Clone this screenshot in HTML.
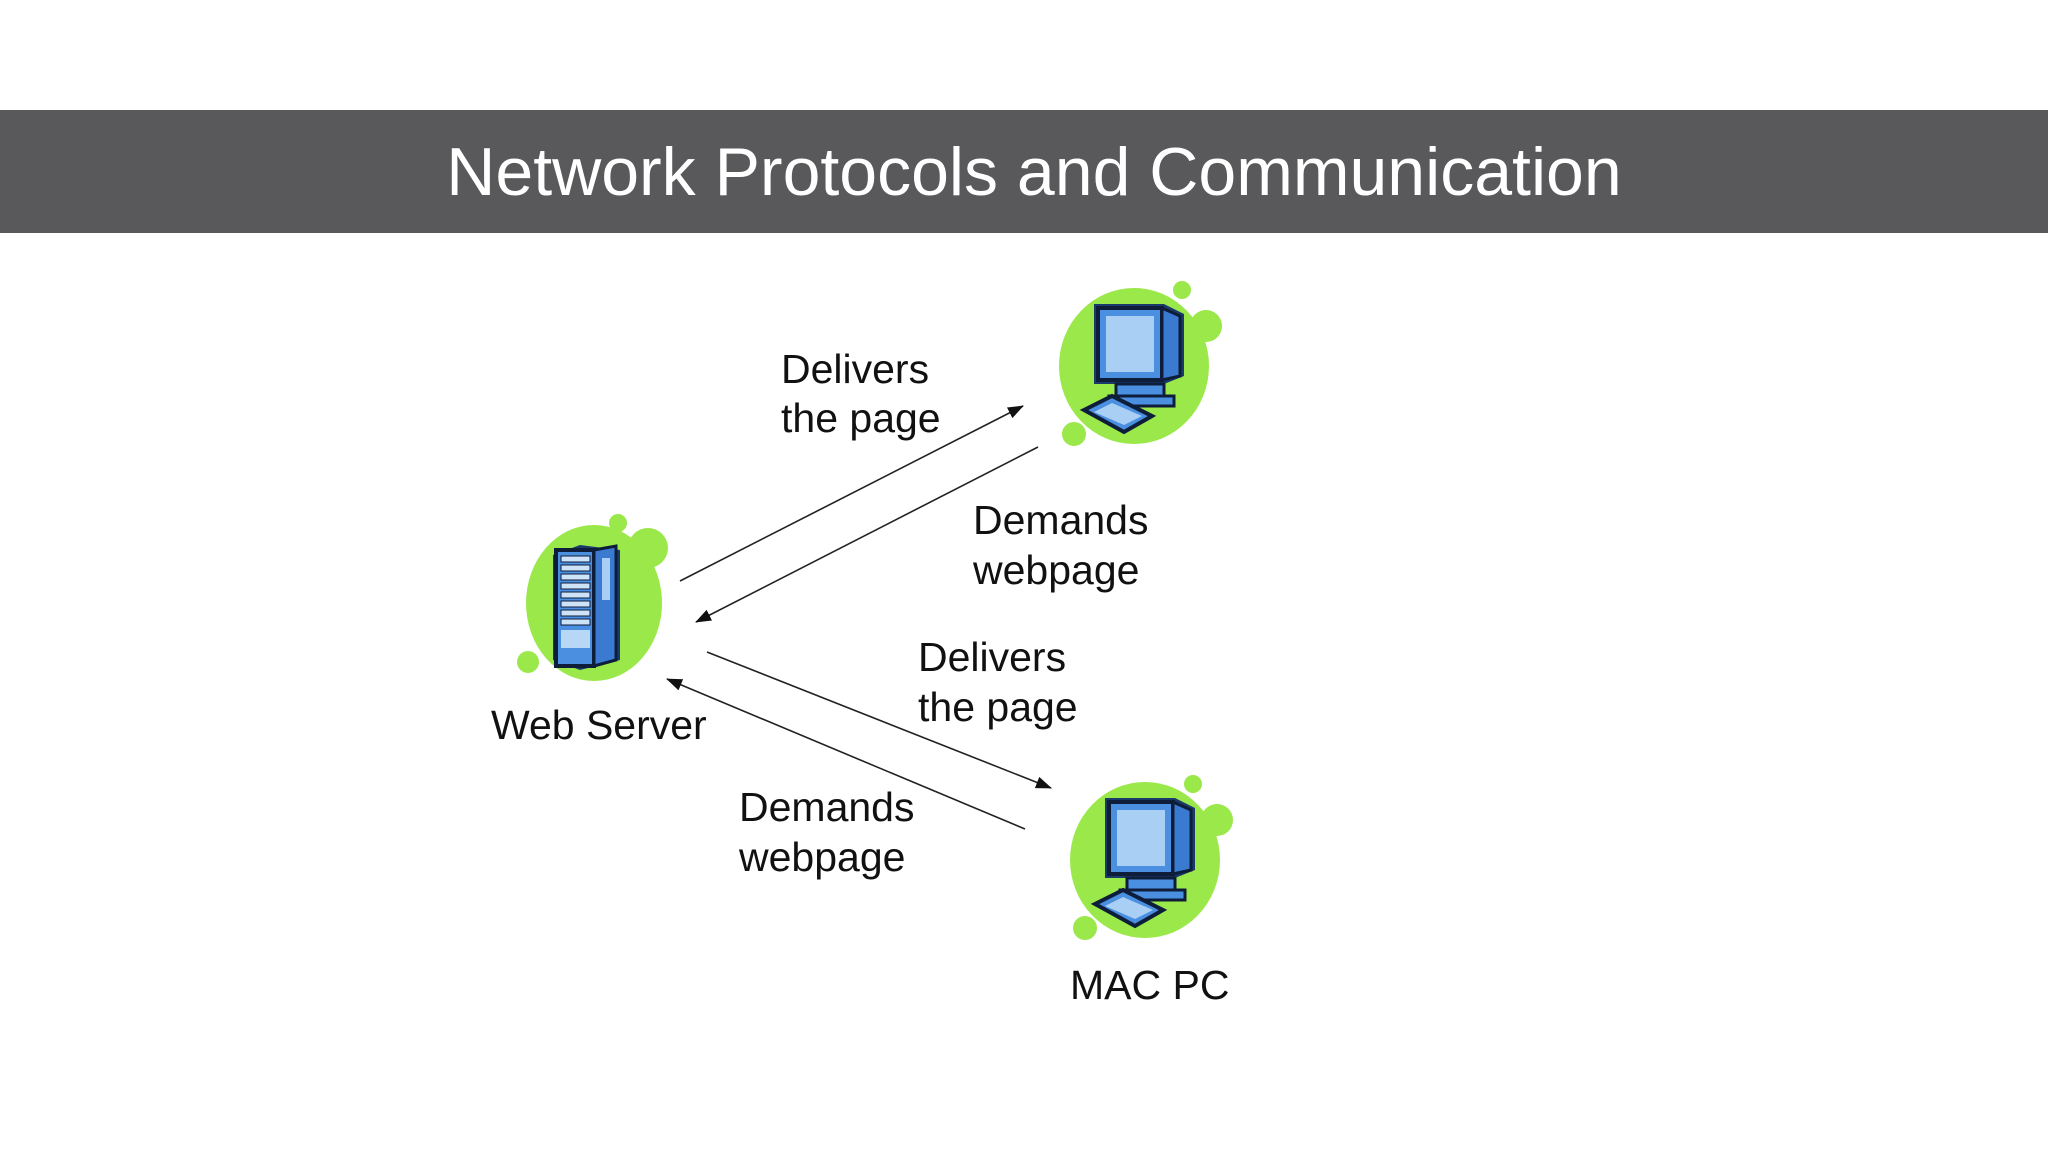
<!DOCTYPE html>
<html><head><style>
body{margin:0;width:2048px;height:1152px;background:#fff;overflow:hidden;font-family:"Liberation Sans",sans-serif}
</style></head><body>
<svg width="2048" height="1152" viewBox="0 0 2048 1152" xmlns="http://www.w3.org/2000/svg" style="position:absolute;left:0;top:0">
<defs>
<marker id="ah2" markerWidth="16" markerHeight="12" refX="15" refY="6" orient="auto" markerUnits="userSpaceOnUse"><path d="M0,0 L16,6 L0,12 Z" fill="#111"/></marker>
<g id="pc">
  <ellipse cx="0" cy="0" rx="75" ry="78" fill="#9be84a"/>
  <circle cx="48" cy="-76" r="9" fill="#9be84a"/>
  <circle cx="72" cy="-40" r="16" fill="#9be84a"/>
  <circle cx="-60" cy="68" r="12" fill="#9be84a"/>
  <path d="M-40,-62 L30,-62 L50,-52 L50,10 L30,18 L-40,18 Z" fill="#1a3a6a"/>
  <rect x="-36" y="-58" width="64" height="72" fill="#4a8fe0" stroke="#0d1d3a" stroke-width="4"/>
  <rect x="-28" y="-50" width="48" height="56" fill="#a9cff5"/>
  <path d="M28,-58 L46,-50 L46,10 L28,14 Z" fill="#3a7ad0" stroke="#0d1d3a" stroke-width="3"/>
  <path d="M-18,18 L30,18 L30,30 L-18,30 Z" fill="#4a8fe0" stroke="#0d1d3a" stroke-width="3"/>
  <path d="M-25,30 L40,30 L40,40 L-25,40 Z" fill="#4a8fe0" stroke="#0d1d3a" stroke-width="3"/>
  <path d="M-50,44 L-22,30 L18,50 L-10,66 Z" fill="#4a8fe0" stroke="#0d1d3a" stroke-width="4"/>
  <path d="M-40,46 L-22,37 L8,50 L-10,59 Z" fill="#a9cff5"/>
</g>
</defs>
<rect x="0" y="110" width="2048" height="123" fill="#59595b"/>
<text x="1034" y="195" font-size="68" fill="#fff" text-anchor="middle" font-family="Liberation Sans, sans-serif">Network Protocols and Communication</text>

<g>
  <ellipse cx="594" cy="603" rx="68" ry="78" fill="#9be84a"/>
  <circle cx="618" cy="523" r="9" fill="#9be84a"/>
  <circle cx="648" cy="548" r="20" fill="#9be84a"/>
  <circle cx="528" cy="662" r="11" fill="#9be84a"/>
  <path d="M553,555 L580,545 L620,550 L620,660 L580,670 L553,660 Z" fill="#1a3a6a"/>
  <rect x="556" y="550" width="38" height="116" fill="#4a8fe0" stroke="#0d1d3a" stroke-width="4"/>
  <path d="M594,550 L616,546 L616,660 L594,666 Z" fill="#3a7ad0" stroke="#0d1d3a" stroke-width="3"/>
  <rect x="602" y="558" width="8" height="42" fill="#a9cff5"/>
  <g fill="#cfe3f8" stroke="#0d1d3a" stroke-width="1">
    <rect x="561" y="556" width="29" height="6"/><rect x="561" y="565" width="29" height="6"/><rect x="561" y="574" width="29" height="6"/><rect x="561" y="583" width="29" height="6"/><rect x="561" y="592" width="29" height="6"/><rect x="561" y="601" width="29" height="6"/><rect x="561" y="610" width="29" height="6"/><rect x="561" y="619" width="29" height="6"/>
  </g>
  <rect x="561" y="630" width="29" height="18" fill="#b8d6f6"/>
</g>
<use href="#pc" x="1134" y="366"/>
<use href="#pc" x="1145" y="860"/>

<g stroke="#222" stroke-width="1.6" fill="none">
  <line x1="680" y1="581" x2="1023" y2="406" marker-end="url(#ah2)"/>
  <line x1="1038" y1="447" x2="696" y2="622" marker-end="url(#ah2)"/>
  <line x1="707" y1="652" x2="1051" y2="788" marker-end="url(#ah2)"/>
  <line x1="1025" y1="829" x2="667" y2="679" marker-end="url(#ah2)"/>
</g>

<g font-size="41" fill="#111" font-family="Liberation Sans, sans-serif">
  <text x="781" y="383">Delivers</text><text x="781" y="432">the page</text>
  <text x="973" y="534">Demands</text><text x="973" y="584">webpage</text>
  <text x="918" y="671">Delivers</text><text x="918" y="721">the page</text>
  <text x="739" y="821">Demands</text><text x="739" y="871">webpage</text>
  <text x="491" y="739">Web Server</text>
  <text x="1070" y="999">MAC PC</text>
</g>
</svg>
</body></html>
